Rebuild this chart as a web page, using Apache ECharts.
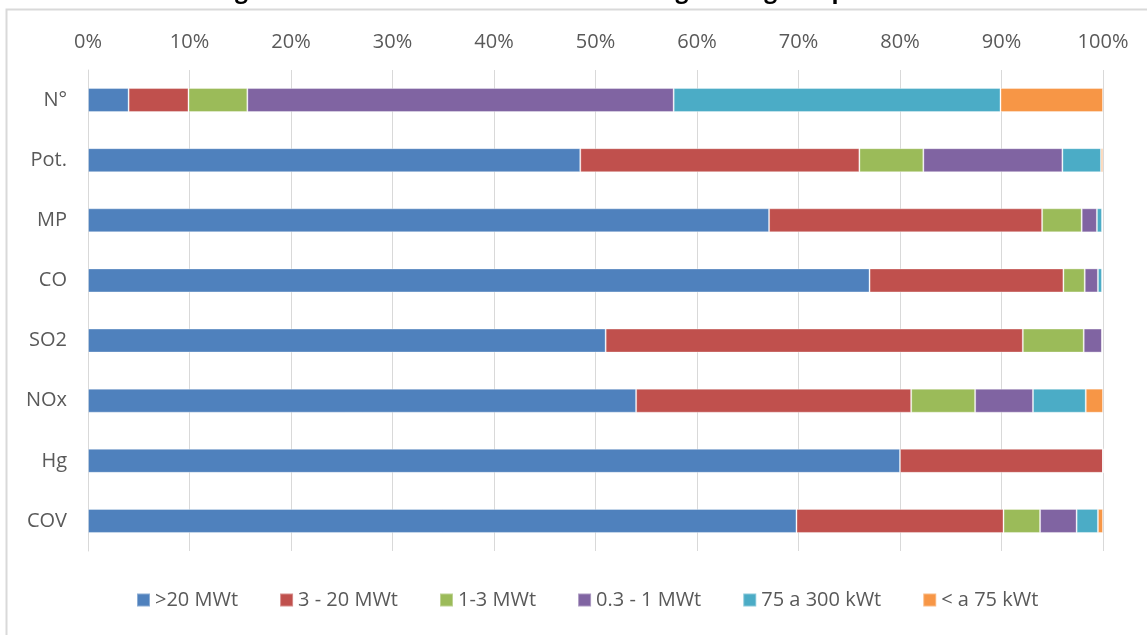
<!DOCTYPE html>
<html>
<head>
	<meta charset="UTF-8">
	<title>Distribución de emisiones</title>
	<script src="https://cdn.jsdelivr.net/npm/echarts@6/dist/echarts.min.js"></script>
	<style>
		html, body { margin: 0; padding: 0; background: #fff; }
		#main { width: 1147px; height: 635px; }
	</style>
</head>
<body>
<div id="main"></div>
<script type="text/javascript">
// categorias (de arriba a abajo)
var categorias = ['N°', 'Pot.', 'MP', 'CO', 'SO2', 'NOx', 'Hg', 'COV'];
var rangos = ['>20 MWt', '3 - 20 MWt', '1-3 MWt', '0.3 - 1 MWt', '75 a 300 kWt', '< a 75 kWt'];
var colores = ['#4F81BD', '#C0504D', '#9BBB59', '#8064A2', '#4BACC6', '#F79646'];

// porcentajes por rango, en el orden de las categorias
var mas20 = [4.0, 48.5, 67.1, 77.0, 51.0, 54.0, 80.0, 69.8];
var de3a20 = [5.9, 27.5, 26.9, 19.1, 41.1, 27.1, 20.0, 20.4];
var de1a3 = [5.8, 6.3, 3.9, 2.1, 6.0, 6.3, 0, 3.6];
var de03a1 = [42.0, 13.7, 1.5, 1.3, 1.8, 5.7, 0, 3.6];
var de75a300 = [32.2, 3.8, 0.5, 0.4, 0, 5.2, 0, 2.1];
var menos75 = [10.1, 0.2, 0.1, 0.1, 0.1, 1.7, 0, 0.5];
var valores = [mas20, de3a20, de1a3, de03a1, de75a300, menos75];

var myChart = echarts.init(document.getElementById('main'));

var series = [];
for (var i = 0; i < rangos.length; i++) {
	series.push({
		name: rangos[i],
		type: 'bar',
		stack: 'total',
		barWidth: '40%',
		itemStyle: {
			color: colores[i],
			borderColor: 'rgba(255,255,255,0.35)',
			borderWidth: 1
		},
		data: valores[i]
	});
}

var fuente = '"Open Sans", sans-serif';

var option = {
	animation: false,
	backgroundColor: '#fff',
	textStyle: { fontFamily: fuente },
	title: {
		text: 'Figura N°3: Distribución de emisiones según rango de potencia',
		left: 'center',
		top: -25,
		textStyle: { fontSize: 23, fontWeight: 'bold', color: '#000', fontFamily: fuente }
	},
	graphic: [{
		type: 'rect',
		silent: true,
		z: -1,
		shape: { x: 6.5, y: 9.5, width: 1160, height: 660 },
		style: { fill: 'none', stroke: '#d9d9d9', lineWidth: 2 }
	}],
	grid: { left: 88, right: 44, top: 70, bottom: 84 },
	legend: {
		bottom: 20,
		left: 131,
		itemWidth: 13,
		itemHeight: 13,
		itemGap: 41,
		icon: 'rect',
		textStyle: { fontSize: 20, color: '#595959' },
		data: rangos
	},
	xAxis: {
		type: 'value',
		position: 'top',
		min: 0,
		max: 100,
		interval: 10,
		axisLine: { show: false },
		axisTick: { show: false },
		axisLabel: { formatter: '{value}%', fontSize: 20, color: '#595959', margin: 18 },
		splitLine: { lineStyle: { color: '#d9d9d9', width: 1 } }
	},
	yAxis: {
		type: 'category',
		inverse: true,
		data: categorias,
		axisLine: { show: true, lineStyle: { color: '#d9d9d9' } },
		axisTick: { show: false },
		axisLabel: { fontSize: 20, color: '#595959', margin: 21 }
	},
	series: series
};
myChart.setOption(option);
</script>
</body>
</html>
